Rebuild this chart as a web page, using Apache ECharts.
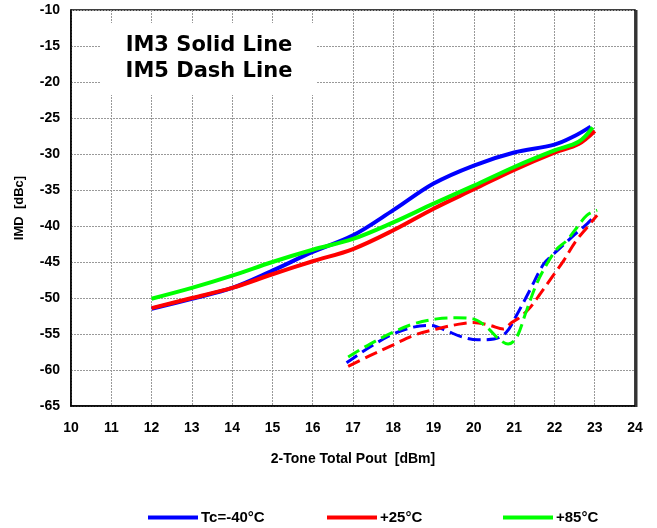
<!DOCTYPE html>
<html>
<head>
<meta charset="utf-8">
<script src="https://cdn.jsdelivr.net/npm/echarts@6/dist/echarts.min.js"></script>
<style>
  html, body { margin: 0; padding: 0; background: #fff; }
  #chart { width: 657px; height: 528px; }
</style>
</head>
<body>
<div id="chart"></div>
<script>
// Legend / temperature labels
const tempNames = ['Tc=-40°C', '+25°C', '+85°C'];
const colors = ['#0000FF', '#FF0000', '#00FF00'];

// Axis ranges (2-Tone Total Pout in dBm, IMD in dBc)
const xTicks = { min: 10, max: 24, step: 1 };
const yTicks = { min: -65, max: -10, step: 5 };

// IM3 (solid) – Pout values and IMD values per temperature
const im3ColdX = [12, 13, 14, 15, 16, 17, 18, 19, 20, 21, 22, 22.5, 22.9];
const im3ColdY = [-51.5, -50.1, -48.6, -46.2, -43.6, -41.3, -37.8, -34.1, -31.6, -29.8, -28.7, -27.5, -26.2];

const im3RoomX = [12, 13, 14, 15, 16, 17, 18, 19, 20, 21, 22, 22.6, 23.0];
const im3RoomY = [-51.4, -50.0, -48.6, -46.7, -44.9, -43.2, -40.6, -37.6, -34.9, -32.2, -29.8, -28.6, -26.8];

const im3HotX = [12, 13, 14, 15, 16, 17, 18, 19, 20, 21, 22, 22.6, 22.95];
const im3HotY = [-50.1, -48.6, -46.9, -45.0, -43.3, -41.8, -39.5, -36.9, -34.4, -31.8, -29.5, -28.3, -26.3];

// IM5 (dashed) – Pout values and IMD values per temperature
const im5ColdX = [16.84, 17.42, 18.0, 18.5, 18.91, 19.3, 19.7, 20.1, 20.5, 20.8, 21.06, 21.4, 21.73, 21.94, 22.23, 22.52, 22.81, 22.97];
const im5ColdY = [-59.0, -56.8, -55.0, -54.05, -53.8, -54.5, -55.4, -55.8, -55.7, -54.8, -52.4, -48.8, -45.3, -44.1, -42.6, -41.1, -39.7, -38.8];

const im5RoomX = [16.88, 17.42, 18.0, 18.5, 19.08, 19.57, 19.98, 20.4, 20.73, 20.94, 21.14, 21.4, 21.65, 21.94, 22.23, 22.52, 22.81, 23.06];
const im5RoomY = [-59.5, -58.0, -56.5, -55.2, -54.3, -53.7, -53.4, -53.8, -54.3, -53.4, -52.7, -51.3, -49.4, -47.1, -44.8, -42.2, -40.2, -38.5];

const im5HotX = [16.88, 17.42, 18.0, 18.5, 19.08, 19.57, 19.98, 20.32, 20.6, 20.85, 21.05, 21.31, 21.56, 21.81, 22.06, 22.31, 22.56, 22.81, 23.06];
const im5HotY = [-58.2, -56.4, -54.75, -53.6, -52.9, -52.75, -52.9, -54.05, -55.6, -56.4, -55.6, -51.7, -48.0, -45.3, -43.2, -42.0, -40.2, -38.5, -37.8];

const pairs = (xs, ys) => xs.map((x, i) => [x, ys[i]]);

const solidSets = [pairs(im3ColdX, im3ColdY), pairs(im3RoomX, im3RoomY), pairs(im3HotX, im3HotY)];
const dashSets = [pairs(im5ColdX, im5ColdY), pairs(im5RoomX, im5RoomY), pairs(im5HotX, im5HotY)];

const series = [];
tempNames.forEach((name, i) => {
  series.push({
    name: name,
    type: 'line',
    data: solidSets[i],
    showSymbol: false,
    smooth: 0.35,
    lineStyle: { color: colors[i], width: 4 },
    itemStyle: { color: colors[i] },
    z: 3
  });
});
tempNames.forEach((name, i) => {
  series.push({
    name: name,
    type: 'line',
    data: dashSets[i],
    showSymbol: false,
    smooth: 0.35,
    lineStyle: { color: colors[i], width: 3, type: [13, 6] },
    itemStyle: { color: colors[i] },
    z: 3
  });
});

const labelFont = { fontFamily: 'Liberation Sans', fontWeight: 'bold', color: '#000' };
const legendLefts = [143, 322, 498];

const chart = echarts.init(document.getElementById('chart'), null, { renderer: 'canvas' });
chart.setOption({
  animation: false,
  backgroundColor: '#fff',
  grid: {
    left: 71, top: 10, width: 564, height: 396,
    show: true, borderColor: '#000', borderWidth: 1.5, backgroundColor: 'transparent'
  },
  xAxis: {
    type: 'value',
    min: xTicks.min, max: xTicks.max, interval: xTicks.step,
    name: '2-Tone Total Pout  [dBm]',
    nameLocation: 'middle', nameGap: 46,
    nameTextStyle: Object.assign({ fontSize: 14 }, labelFont),
    axisLine: { show: true, onZero: false, lineStyle: { color: '#000', width: 1.5 } },
    axisTick: { show: false },
    axisLabel: Object.assign({ fontSize: 14, margin: 15 }, labelFont),
    splitLine: { show: true, lineStyle: { color: '#999', width: 1, type: [2, 1] } }
  },
  yAxis: {
    type: 'value',
    min: yTicks.min, max: yTicks.max, interval: yTicks.step,
    name: 'IMD  [dBc]',
    nameLocation: 'middle', nameGap: 45, nameRotate: 90,
    nameTextStyle: Object.assign({ fontSize: 13 }, labelFont),
    axisLine: { show: true, onZero: false, lineStyle: { color: '#000', width: 1.5 } },
    axisTick: { show: false },
    axisLabel: Object.assign({ fontSize: 14, margin: 11 }, labelFont),
    splitLine: { show: true, lineStyle: { color: '#999', width: 1, type: [2, 1] } }
  },
  legend: tempNames.map((name, i) => ({
    data: [name],
    left: legendLefts[i],
    top: 505,
    icon: 'rect',
    itemWidth: 50,
    itemHeight: 4,
    itemGap: 0,
    selectedMode: false,
    textStyle: Object.assign({ fontSize: 15, padding: [0, 0, 0, -2] }, labelFont),
    itemStyle: { color: colors[i] }
  })),
  graphic: [
    {
      type: 'rect',
      shape: { x: 101, y: 23, width: 216, height: 72 },
      style: { fill: '#fff' },
      z: 2
    },
    {
      type: 'text',
      x: 209, y: 46,
      style: {
        text: 'IM3 Solid Line',
        font: 'bold 21px "DejaVu Sans"',
        fill: '#000',
        align: 'center', verticalAlign: 'middle'
      },
      z: 3
    },
    {
      type: 'text',
      x: 209, y: 72,
      style: {
        text: 'IM5 Dash Line',
        font: 'bold 21px "DejaVu Sans"',
        fill: '#000',
        align: 'center', verticalAlign: 'middle'
      },
      z: 3
    },
    {
      type: 'rect',
      shape: { x: 635, y: 10, width: 2.5, height: 397 },
      style: { fill: '#333' },
      z: 2
    }
  ],
  series: series
});
</script>
</body>
</html>
